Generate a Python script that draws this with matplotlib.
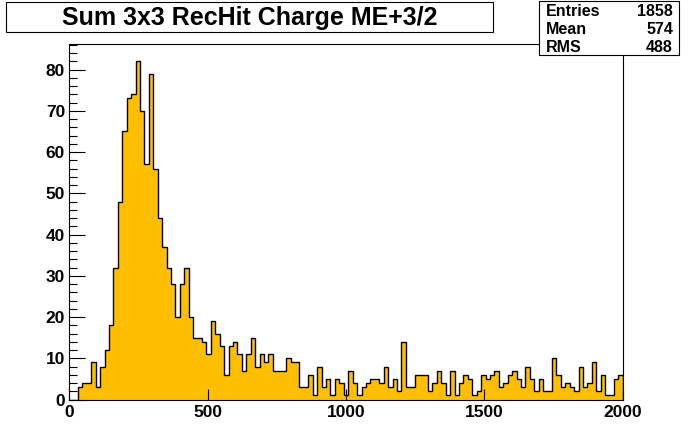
import numpy as np
import matplotlib

matplotlib.use("Agg")
import matplotlib.pyplot as plt
from matplotlib.patches import Rectangle
from matplotlib.ticker import MultipleLocator

# bin contents, 125 bins of width 16 from 0 to 2000
counts = [
    0, 0, 3, 4, 4, 9, 3, 8, 12, 18,
    32, 48, 65, 73, 74, 82, 70, 57, 79, 56,
    44, 37, 32, 28, 20, 28, 32, 20, 15, 15,
    14, 11, 19, 16, 13, 6, 13, 14, 11, 7,
    11, 15, 8, 11, 9, 11, 7, 7, 7, 10,
    9, 9, 3, 3, 6, 1, 8, 3, 5, 1,
    5, 4, 1, 7, 4, 1, 3, 4, 5, 5,
    4, 8, 3, 5, 2, 14, 3, 3, 6, 6,
    6, 2, 4, 7, 4, 1, 7, 1, 4, 6,
    5, 1, 2, 6, 5, 6, 7, 3, 4, 6,
    7, 5, 3, 8, 5, 2, 5, 2, 2, 10,
    6, 3, 4, 3, 2, 8, 3, 4, 9, 2,
    6, 1, 1, 5, 6,
]
x_min, x_max = 0, 2000
y_max = 86.1
title = "Sum 3x3 RecHit Charge ME+3/2"
stat_names = ["Entries", "Mean", "RMS"]
stat_values = ["1858", "574", "488"]

edges = np.linspace(x_min, x_max, len(counts) + 1)

plt.rcParams["font.family"] = ["Liberation Sans", "DejaVu Sans"]
plt.rcParams["font.weight"] = "bold"

W, H = 692, 444
fig = plt.figure(figsize=(W / 100, H / 100), dpi=100)
ax = fig.add_axes([0.1, 0.1, 0.8, 0.8])
ax.stairs(counts, edges, fill=True, facecolor="#ffbf00",
          edgecolor="black", linewidth=1.0)
ax.set_xlim(x_min, x_max)
ax.set_ylim(0, y_max)

ax.xaxis.set_major_locator(MultipleLocator(500))
ax.yaxis.set_major_locator(MultipleLocator(10))
ax.yaxis.set_minor_locator(MultipleLocator(2))
ax.tick_params(axis="x", which="major", direction="in", length=8, width=0.8,
               top=False, labelsize=12.5, pad=4)
ax.tick_params(axis="y", which="major", direction="in", length=11.5, width=0.8,
               right=False, labelsize=12.5, pad=3)
ax.tick_params(axis="y", which="minor", direction="in", length=5.8, width=0.8,
               right=False)
for sp in ax.spines.values():
    sp.set_linewidth(0.8)


def px_rect(x0, y0, x1, y1):
    # pixel box (top-left origin) -> figure-fraction rectangle
    return Rectangle((x0 / W, 1 - y1 / H), (x1 - x0) / W, (y1 - y0) / H,
                     transform=fig.transFigure, facecolor="white",
                     edgecolor="black", linewidth=0.8, zorder=10)


fig.add_artist(px_rect(6, 2, 493, 32))
fig.text(249.5 / W, 1 - 25 / H, title, fontsize=18, fontweight="bold",
         ha="center", va="baseline", zorder=11)

fig.add_artist(px_rect(539, 1, 679, 55))
for i, (n, v) in enumerate(zip(stat_names, stat_values)):
    yy = 1 - (16.5 + 18 * i) / H
    fig.text(546 / W, yy, n, fontsize=11.5, fontweight="bold",
             ha="left", va="baseline", zorder=11)
    fig.text(673 / W, yy, v, fontsize=11.5, fontweight="bold",
             ha="right", va="baseline", zorder=11)

fig.savefig("out.png", dpi=100, facecolor="white")
